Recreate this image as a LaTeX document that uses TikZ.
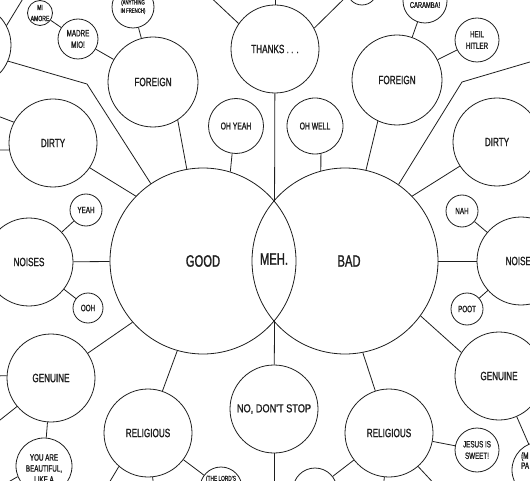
\documentclass[tikz,border=0pt]{standalone}
\usepackage{fontspec}
\setmainfont[FakeStretch=0.68, FakeBold=1.2]{Liberation Sans}
\newfontfamily\wideCond[FakeStretch=0.8, FakeBold=1.2]{Liberation Sans}
\usepackage{xcolor}
\usepackage{tikz}
\definecolor{inkGrey}{HTML}{1E1E1E}
\tikzset{
  bubble/.style={circle, draw=inkGrey, line width=0.8pt, inner sep=0pt, minimum size=#1, align=center, text=inkGrey, font=\fontsize{12}{13}\selectfont},
  midbubble/.style={bubble=#1, font=\fontsize{10}{11}\selectfont},
  smallbubble/.style={bubble=#1, font=\fontsize{9.2}{11.5}\selectfont},
  tinybubble/.style={bubble=#1, font=\fontsize{7.5}{11}\selectfont},
  bigbubble/.style={bubble=#1, font=\fontsize{16.5}{18}\selectfont},
  bubbletext/.style={align=center, inner sep=0pt, text=inkGrey, font=\fontsize{9.2}{11}\selectfont},
  link/.style={draw=inkGrey, line width=0.8pt},
}

\begin{document}
\begin{tikzpicture}[x=1pt,y=-1pt]
  \useasboundingbox (0,0) rectangle (530,481);
  \clip (0,0) rectangle (530,481);

  % Centre: good / meh. / bad
  \node[bigbubble=186] (good) at (203,261) {GOOD};
  \node[bigbubble=186] (bad) at (345,261) {\hspace*{8pt}BAD};
  \node[font=\fontsize{16.5}{18}\selectfont, text=inkGrey, inner sep=0pt] (meh) at (274,259) {MEH.};

  % Top and bottom of the lens
  \node[bubble=88] (thanks) at (275,49) {THANKS . . .};
  \node[bubble=88, font=\wideCond\fontsize{11.5}{13}\selectfont] (nodont) at (274,409) {NO, DON'T STOP};
  \node[midbubble=55] (ohyeah) at (236,126) {OH YEAH};
  \node[midbubble=56] (ohwell) at (315,126) {OH WELL};

  % Good side
  \node[bubble=90] (foreignL) at (153,82) {FOREIGN};
  \node[tinybubble=42, font=\fontsize{6.3}{8.3}\selectfont] (french) at (133,7) {(ANYTHING\\IN FRENCH)};
  \node[smallbubble=40] (madre) at (78,39) {MADRE\\MIO!};
  \node[tinybubble=25] (miamore) at (40,13) {MI\\AMORE};
  \node[bubble=82] (farL) at (-30,45) {};
  \node[bubble=88] (dirtyL) at (53,143) {DIRTY};
  \node[bubble=88] (noisesL) at (29,262) {NOISES};
  \node[smallbubble=32] (yeah) at (86,210) {YEAH};
  \node[smallbubble=30] (ooh) at (88,308) {OOH};
  \node[bubble=88] (genuineL) at (51,378) {GENUINE};
  \node[bubble=56] (beautiful) at (44,466) {};
  \node[bubbletext, anchor=north] (beautifulTxt) at (44,454) {YOU ARE\\BEAUTIFUL,\\LIKE A};
  \node[bubble=88] (religiousL) at (148,433) {RELIGIOUS};
  \node[bubble=42] (lords) at (221,488) {};
  \node[bubbletext, font=\fontsize{7}{9}\selectfont, anchor=north] (lordsTxt) at (221,475.5) {(THE LORD'S};

  % Bad side
  \node[bubble=90] (foreignR) at (397,80) {FOREIGN};
  \node[bubble=44] (caramba) at (425,1) {};
  \node[bubbletext, font=\fontsize{8.5}{10}\selectfont] (carambaTxt) at (425,5) {CARAMBA!};
  \node[smallbubble=44] (heil) at (477,40) {HEIL\\HITLER};
  \node[bubble=30] (topR) at (362,-10) {};
  \node[bubble=88] (dirtyR) at (497,142) {DIRTY};
  \node[bubble=88] (noisesR) at (521,261) {NOISES};
  \node[smallbubble=32] (nah) at (462,211) {NAH};
  \node[smallbubble=32] (poot) at (467,309) {POOT};
  \node[bubble=88] (genuineR) at (499,376) {GENUINE};
  \node[bubble=56] (mpa) at (540,470) {};
  \node[bubbletext, align=left, anchor=north west, font=\fontsize{9.2}{10}\selectfont] (mpaTxt) at (521,452) {(M\\PA};
  \node[bubble=88] (religiousR) at (389,433) {RELIGIOUS};
  \node[smallbubble=44] (jesus) at (477,450) {JESUS IS\\SWEET!};
  \node[bubble=44] (botM) at (315,490) {};

  % Loose ends and bends
  \coordinate (thanksUp) at (275,-10);
  \coordinate (thanksUL) at (205,-8);
  \coordinate (thanksUR) at (351,-8);
  \coordinate (nodontDown) at (274,495);
  \coordinate (farLUp) at (24,-3);
  \coordinate (bendL) at (87,84);
  \coordinate (bendR) at (462,82);
  \coordinate (farREnd) at (540,59);
  \coordinate (dirtyLW) at (-5,115);
  \coordinate (dirtyLW2) at (-5,150);
  \coordinate (genuineLW) at (-5,376);
  \coordinate (genuineLSW) at (-5,424);
  \coordinate (beautifulSW) at (5,484);
  \coordinate (religiousLSW) at (106,488);
  \coordinate (religiousLS) at (154,490);
  \coordinate (religiousRSE) at (440,490);
  \coordinate (religiousRS) at (383,490);

  % Lens connectors
  \draw[link] (thanks) -- (good.40.2);
  \draw[link] (nodont) -- (good.-40.2);
  \draw[link] (thanks) -- (thanksUp);
  \draw[link] (thanks.145) -- (thanksUL);
  \draw[link] (thanks.28) -- (thanksUR);
  \draw[link] (nodont) -- (nodontDown);

  % Good side connectors
  \draw[link] (ohyeah.-98) -- (good.73.5);
  \draw[link] (foreignL.-57) -- (good.100);
  \draw[link] (farL.-23) -- (bendL) -- (good.124);
  \draw[link] (farL.28) -- (farLUp);
  \draw[link] (dirtyL.-34) -- (good.136);
  \draw[link] (noisesL) -- (good);
  \draw[link] (genuineL.34) -- (good.-139);
  \draw[link] (religiousL.71) -- (good.-106);
  \draw[link] (foreignL) -- (french);
  \draw[link] (foreignL) -- (madre);
  \draw[link] (madre) -- (miamore);
  \draw[link] (dirtyL.152) -- (dirtyLW);
  \draw[link] (dirtyL.-171) -- (dirtyLW2);
  \draw[link] (noisesL) -- (yeah);
  \draw[link] (noisesL) -- (ooh);
  \draw[link] (genuineL.177) -- (genuineLW);
  \draw[link] (genuineL.-140) -- (genuineLSW);
  \draw[link] (genuineL) -- (beautiful);
  \draw[link] (beautiful.-158) -- (beautifulSW);
  \draw[link] (religiousL) -- (lords);
  \draw[link] (religiousL.-131) -- (religiousLSW);
  \draw[link] (religiousL.-84) -- (religiousLS);

  % Bad side connectors
  \draw[link] (ohwell.-78) -- (bad.105);
  \draw[link] (foreignR.-115) -- (bad.77);
  \draw[link] (bad.55.6) -- (bendR) -- (farREnd);
  \draw[link] (dirtyR.-147) -- (bad.44);
  \draw[link] (noisesR) -- (bad);
  \draw[link] (genuineR.148) -- (bad.-36.5);
  \draw[link] (religiousR.108) -- (bad.-79.5);
  \draw[link] (foreignR) -- (caramba);
  \draw[link] (foreignR) -- (heil);
  \draw[link] (noisesR) -- (nah);
  \draw[link] (noisesR) -- (poot);
  \draw[link] (genuineR) -- (mpa);
  \draw[link] (religiousR) -- (jesus);
  \draw[link] (religiousR) -- (botM);
  \draw[link] (religiousR.-49) -- (religiousRSE);
  \draw[link] (religiousR.-96) -- (religiousRS);
\end{tikzpicture}
\end{document}
